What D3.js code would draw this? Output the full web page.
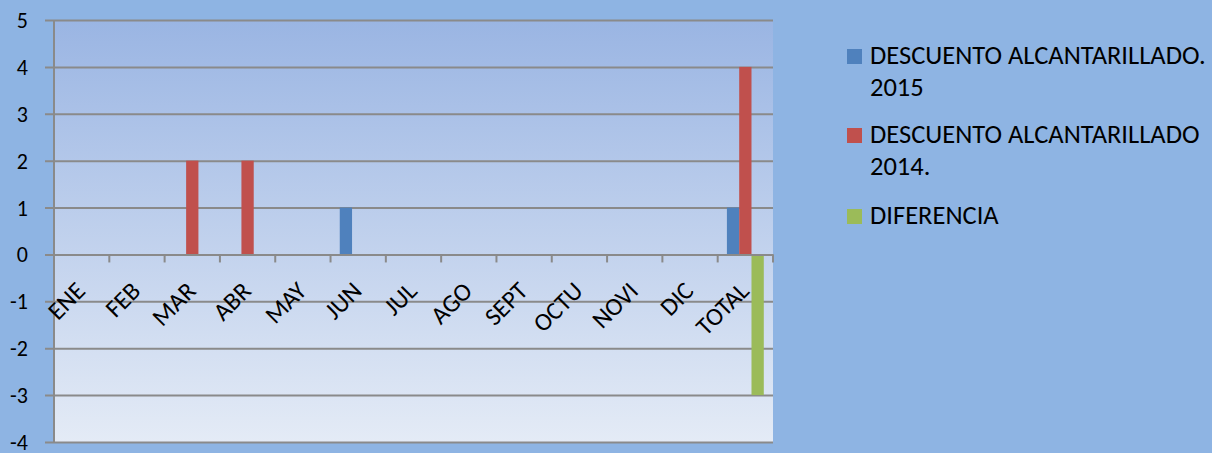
<!DOCTYPE html>
<html>
<head>
<meta charset="utf-8">
<script src="https://cdnjs.cloudflare.com/ajax/libs/d3/7.8.5/d3.min.js"></script>
<style>
  body { margin: 0; background: #8EB4E3; }
  svg { display: block; font-family: Calibri, Carlito, Lato, sans-serif; }
</style>
</head>
<body>
<svg width="1212" height="453"></svg>
<script>
var categories = ["ENE", "FEB", "MAR", "ABR", "MAY", "JUN", "JUL", "AGO", "SEPT", "OCTU", "NOVI", "DIC", "TOTAL"];
var seriesNames = ["DESCUENTO ALCANTARILLADO. 2015", "DESCUENTO ALCANTARILLADO 2014.", "DIFERENCIA"];
var values2015 = [0, 0, 0, 0, 0, 1, 0, 0, 0, 0, 0, 0, 1];
var values2014 = [0, 0, 2, 2, 0, 0, 0, 0, 0, 0, 0, 0, 4];
var diferencia = [0, 0, 0, 0, 0, 0, 0, 0, 0, 0, 0, 0, -3];
var yTicks = [-4, -3, -2, -1, 0, 1, 2, 3, 4, 5];
var colors = ["#4F81BD", "#C0504D", "#9BBB59"];

var series = [values2015, values2014, diferencia];
var data = categories.map(function (c, i) {
    return { cat: c, vals: series.map(function (s, j) { return { key: seriesNames[j], v: s[i] }; }) };
});

var svg = d3.select("svg"),
    plotLeft = 54, plotRight = 773, plotTop = 20, plotBottom = 442;

var defs = svg.append("defs");
var grad = defs.append("linearGradient")
    .attr("id", "plotbg")
    .attr("x1", 0).attr("y1", 0).attr("x2", 0).attr("y2", 1);
grad.append("stop").attr("offset", "0%").attr("stop-color", "#9AB5E3");
grad.append("stop").attr("offset", "100%").attr("stop-color", "#E4EBF6");

var x = d3.scaleBand().domain(categories).range([plotLeft, plotRight]).padding(0);
var x1 = d3.scaleBand().domain(seriesNames).range([0, x.bandwidth()]).paddingInner(0).paddingOuter(0.75);
var y = d3.scaleLinear().domain([-4, 5]).range([plotBottom, plotTop]);

svg.append("rect")
    .attr("x", plotLeft).attr("y", plotTop)
    .attr("width", plotRight - plotLeft).attr("height", plotBottom - plotTop)
    .attr("fill", "url(#plotbg)");

// gridlines + y axis
var yAxis = svg.append("g")
    .attr("transform", "translate(" + plotLeft + ",0)")
    .call(d3.axisLeft(y).tickValues(yTicks).tickSizeInner(-(plotRight - plotLeft)).tickSizeOuter(0)
        .tickFormat(function (d) { return String(d); }));
yAxis.select(".domain").remove();
yAxis.selectAll(".tick line")
    .attr("x1", -9)
    .attr("stroke", "#8A8A8A").attr("stroke-width", 2);
yAxis.selectAll(".tick text")
    .attr("x", -26).attr("dy", "0.34em")
    .attr("font-size", "22px").attr("fill", "#000")
    .attr("font-family", "Calibri, Carlito, Lato, sans-serif");

svg.append("line")
    .attr("x1", plotLeft).attr("x2", plotLeft)
    .attr("y1", plotTop).attr("y2", plotBottom)
    .attr("stroke", "#8A8A8A").attr("stroke-width", 2);

// bars
var groups = svg.selectAll(".grp")
    .data(data)
    .enter().append("g")
    .attr("class", "grp")
    .attr("transform", function (d) { return "translate(" + x(d.cat) + ",0)"; });

groups.selectAll("rect")
    .data(function (d) { return d.vals; })
    .enter().append("rect")
    .attr("x", function (d) { return x1(d.key); })
    .attr("y", function (d) { return y(Math.max(0, d.v)); })
    .attr("width", x1.bandwidth())
    .attr("height", function (d) { return Math.abs(y(d.v) - y(0)); })
    .attr("fill", function (d, i) { return colors[i]; });

// category axis at zero
var xAxis = svg.append("g")
    .attr("transform", "translate(0," + y(0) + ")")
    .call(d3.axisBottom(x).tickSize(0).tickPadding(0));
xAxis.select(".domain")
    .attr("stroke", "#8A8A8A").attr("stroke-width", 2);
xAxis.selectAll(".tick text")
    .attr("font-size", "25px").attr("fill", "#000")
    .attr("font-family", "Calibri, Carlito, Lato, sans-serif")
    .attr("text-anchor", "end")
    .attr("dy", 0).attr("y", 0)
    .attr("transform", "translate(5,38) rotate(-45)");

var edges = d3.range(categories.length + 1).map(function (i) { return plotLeft + i * x.step(); });
svg.append("g").selectAll("line")
    .data(edges.slice(1))
    .enter().append("line")
    .attr("x1", function (d) { return d; }).attr("x2", function (d) { return d; })
    .attr("y1", y(0)).attr("y2", y(0) + 8)
    .attr("stroke", "#8A8A8A").attr("stroke-width", 2);

// legend
var legend = svg.append("g").attr("transform", "translate(847,0)");
var itemY = [64, 143, 224];
seriesNames.forEach(function (name, i) {
    var it = legend.append("g").attr("transform", "translate(0," + itemY[i] + ")");
    it.append("rect")
        .attr("x", 0).attr("y", -15)
        .attr("width", 15).attr("height", 15)
        .attr("fill", colors[i]);
    var t = it.append("text")
        .attr("x", 23).attr("y", 0)
        .attr("font-size", "26.5px").attr("fill", "#000");
    var words = name.split(" "), line = [];
    var tspan = t.append("tspan").attr("x", 23).attr("dy", 0);
    words.forEach(function (w) {
        line.push(w);
        tspan.text(line.join(" "));
        if (tspan.node().getComputedTextLength() > 345 && line.length > 1) {
            line.pop();
            tspan.text(line.join(" "));
            line = [w];
            tspan = t.append("tspan").attr("x", 23).attr("dy", 32).text(w);
        }
    });
});
</script>
</body>
</html>
